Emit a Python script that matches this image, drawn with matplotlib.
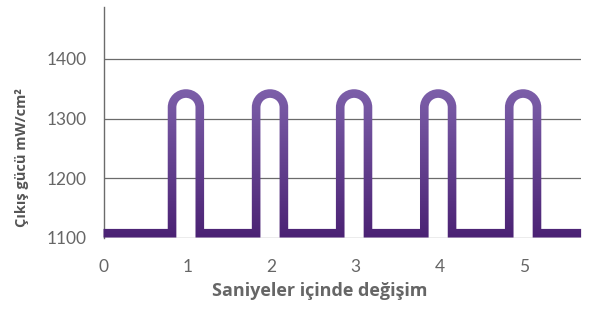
import numpy as np
import matplotlib
matplotlib.use("Agg")
import matplotlib.pyplot as plt
from matplotlib.path import Path
from matplotlib.patches import PathPatch, Rectangle
from matplotlib.transforms import IdentityTransform
from matplotlib.colors import to_rgb

# data
pulse_x = [0.98, 1.98, 2.98, 3.98, 4.99]   # seconds, centre of each pulse
pulse_halfwidth = 0.165                    # seconds
peak_val = 1342                            # mW/cm2, top of the pulse
base_val = 1108                            # mW/cm2, resting level
x_start, x_end = 0.0, 5.68
yticks = [1100, 1200, 1300, 1400]
xticks = [0, 1, 2, 3, 4, 5]

dark = np.array(to_rgb("#4a2173"))
light = np.array(to_rgb("#7c5fa9"))
grey = "#6b6b6b"
lw = 6.2

fig = plt.figure(figsize=(5.97, 3.18), dpi=100)
ax = fig.add_axes([0.1734, 0.2516, 0.80, 0.7264])
ax.set_xlim(x_start, x_end)
ax.set_ylim(1100, 1487)

for sp in ["top", "right", "bottom"]:
    ax.spines[sp].set_visible(False)
ax.spines["left"].set_color(grey)
ax.spines["left"].set_linewidth(1.0)

ax.set_yticks(yticks)
ax.set_xticks(xticks)
ax.yaxis.grid(True, color=grey, lw=0.9)
ax.set_axisbelow(True)
ax.tick_params(length=0, colors="#666666", labelsize=12.5)
ax.tick_params(axis="y", pad=12)
ax.tick_params(axis="x", pad=15)
for lab in ax.get_xticklabels() + ax.get_yticklabels():
    lab.set_fontfamily("Lato")

# build the pulse path in data units; the round tops are circular on screen
bbox = ax.get_window_extent()
px_x = bbox.width / (x_end - x_start)
px_y = bbox.height / (1487 - 1100)
rx = pulse_halfwidth
ry = rx * px_x / px_y
arc = Path.arc(0, 180)
arc_v = arc.vertices[::-1]

verts = [(x_start, base_val)]
codes = [Path.MOVETO]
for c in pulse_x:
    cy = peak_val - ry
    verts += [(c - rx, base_val), (c - rx, cy)]
    codes += [Path.LINETO, Path.LINETO]
    for ux, uy in arc_v[1:]:
        verts.append((c + rx * ux, cy + ry * uy))
        codes.append(Path.CURVE4)
    verts.append((c + rx, base_val))
    codes.append(Path.LINETO)
verts.append((x_end, base_val))
codes.append(Path.LINETO)
path = Path(verts, codes)

# vertical gradient: draw the same path once per pixel row, clipped to that row
y_lo = ax.transData.transform((0, 1100))[1]
y_hi = ax.transData.transform((0, peak_val))[1] + lw / 72 * 100 / 2
for row in range(int(y_lo) - 2, int(np.ceil(y_hi)) + 2):
    t = np.clip((row + 0.5 - y_lo) / (y_hi - y_lo), 0, 1)
    col = dark + (light - dark) * t
    p = PathPatch(path, fill=False, edgecolor=col, lw=lw,
                  joinstyle="miter", capstyle="butt", zorder=3)
    ax.add_patch(p)
    p.set_clip_path(Rectangle((0, row), fig.bbox.width, 1,
                              transform=IdentityTransform()))

fig.text(0.535, 0.058, "Saniyeler içinde değişim", ha="center", va="bottom",
         fontsize=13, fontweight="bold", color="#666666", family="Open Sans")
fig.text(0.037, 0.505, "Çıkış gücü mW/cm²", ha="center", va="center",
         rotation=90, fontsize=10.5, fontweight="bold", color="#555555",
         family="Open Sans")

fig.savefig("out.png", dpi=100)
